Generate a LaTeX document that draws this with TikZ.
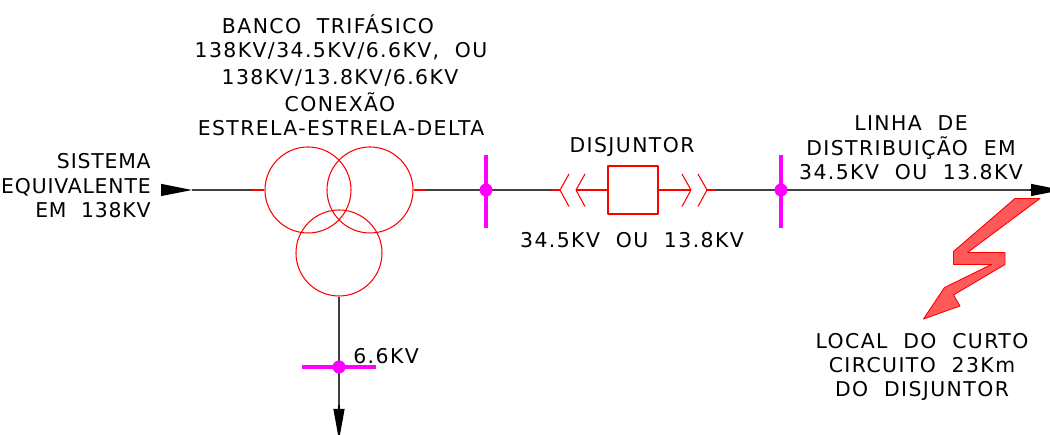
\documentclass[tikz,border=0pt]{standalone}
\usepackage{fontspec}
\setmainfont[LetterSpace=7,WordSpace=2]{DejaVu Sans}
\usetikzlibrary{arrows.meta}
\definecolor{busmagenta}{RGB}{255,0,255}
\definecolor{purered}{RGB}{255,0,0}
\tikzset{
	label/.style={inner sep=0pt,font=\fontsize{11.6}{13.9}\selectfont,align=center},
	wire/.style={black!75,line width=0.6pt},
	redwire/.style={purered,line width=0.6pt},
	winding/.style={circle,draw=purered,line width=0.6pt,minimum size=1.72cm,inner sep=0pt},
	bus/.style={busmagenta,line width=2pt},
	busdot/.style={circle,fill=busmagenta,minimum size=0.26cm,inner sep=0pt},
	feed/.style={-{Triangle[length=0.62cm,width=0.24cm]},black,line width=0.6pt}
}
\begin{document}
\begin{tikzpicture}[line join=round]
	\useasboundingbox (0,0) rectangle (21,8.7);
	% transformer
	\node[winding] (primary) at (6.16,4.9) {};
	\node[winding] (secondary) at (7.4,4.9) {};
	\node[winding] (tertiary) at (6.78,3.64) {};
	% points along the line
	\coordinate (source) at (3.22,4.9);
	\coordinate (sourcetip) at (3.84,4.9);
	\coordinate (leadin) at (5.04,4.9);
	\coordinate (busA) at (9.72,4.9);
	\coordinate (busB) at (15.62,4.9);
	\coordinate (busC) at (6.78,1.36);
	\coordinate (lineend) at (21.24,4.9);
	\coordinate (loadend) at (6.78,-0.1);
	% left side of the breaker
	\coordinate (chevA) at (11.2,4.9);
	\coordinate (chevB) at (11.52,4.9);
	\node[draw=purered,line width=0.8pt,minimum width=1cm,minimum height=0.96cm,inner sep=0pt] (breaker) at (12.66,4.9) {};
	\coordinate (chevC) at (13.82,4.9);
	\coordinate (chevD) at (14.14,4.9);
	% wires
	\draw[feed] (source)--(sourcetip);
	\draw[wire] (sourcetip)--(leadin);
	\draw[redwire] (leadin)--(primary.west);
	\draw[redwire] (secondary.east)--++(0.24,0);
	\draw[wire] (secondary.east)++(0.24,0)--(busA);
	\draw[wire] (busA)--++(1.32,0);
	\draw[redwire] (chevA)--++(-0.16,0);
	\draw[redwire] (chevB)--(breaker.west);
	\draw[redwire] (breaker.east)--(chevC);
	\draw[redwire] (chevD)--++(0.16,0);
	\draw[wire] (chevD)++(0.16,0)--(busB);
	\draw[wire] (busB)--(20.6,4.9);
	\draw[feed] (20.6,4.9)--(lineend);
	\draw[wire] (tertiary.south)--(6.78,0.5);
	\draw[-{Triangle[length=0.62cm,width=0.22cm]},black,line width=0.6pt] (6.78,0.6)--(loadend);
	% chevrons
	\foreach \c/\d in {chevA/1,chevB/1,chevC/-1,chevD/-1}{
		\draw[redwire] ([shift={(0.18*\d,0.32)}]\c)--(\c)--([shift={(0.18*\d,-0.33)}]\c);
	}
	% bars
	\draw[bus] ([yshift=0.7cm]busA)--([yshift=-0.76cm]busA);
	\draw[bus] ([yshift=0.7cm]busB)--([yshift=-0.76cm]busB);
	\draw[bus] ([xshift=-0.74cm]busC)--([xshift=0.74cm]busC);
	\foreach \b in {busA,busB,busC}{\node[busdot] at (\b) {};}
	% fault
	\fill[purered!65,draw=purered,line width=0.5pt]
	(20.3,4.73)--(20.8,4.73)--(19.35,3.65)--(20.1,3.65)--(20.1,3.41)--(19.07,2.8)--(19.2,2.58)--(18.47,2.32)--(18.89,2.95)--(19.83,3.41)--(19.07,3.41)--(19.07,3.67)--cycle;
	% labels
	\node[label] (bancoT) at (6.56,8.22) {BANCO TRIFÁSICO};
	\node[label] (bancoA) at (6.82,7.68) {138KV/34.5KV/6.6KV, OU};
	\node[label] (bancoB) at (6.8,7.14) {138KV/13.8KV/6.6KV};
	\node[label] (bancoC) at (6.8,6.66) {CONEXÃO};
	\node[label] (bancoD) at (6.82,6.14) {ESTRELA-ESTRELA-DELTA};
	\node[label,anchor=east,align=right] (sistema) at (3.02,4.98) {\addfontfeature{LetterSpace=4}SISTEMA\\\addfontfeature{LetterSpace=4}EQUIVALENTE\\\addfontfeature{LetterSpace=4}EM 138KV};
	\node[label] (disjuntor) at (12.64,5.76) {DISJUNTOR};
	\node[label] (tensao) at (12.64,3.9) {34.5KV OU 13.8KV};
	\node[label] (linha) at (18.22,5.74) {LINHA DE\\DISTRIBUIÇÃO EM\\34.5KV OU 13.8KV};
	\node[label,anchor=west] (tensaoC) at (7.06,1.58) {6.6KV};
	\node[label] (local) at (18.44,1.36) {LOCAL DO CURTO\\CIRCUITO 23Km\\DO DISJUNTOR};
\end{tikzpicture}
\end{document}
